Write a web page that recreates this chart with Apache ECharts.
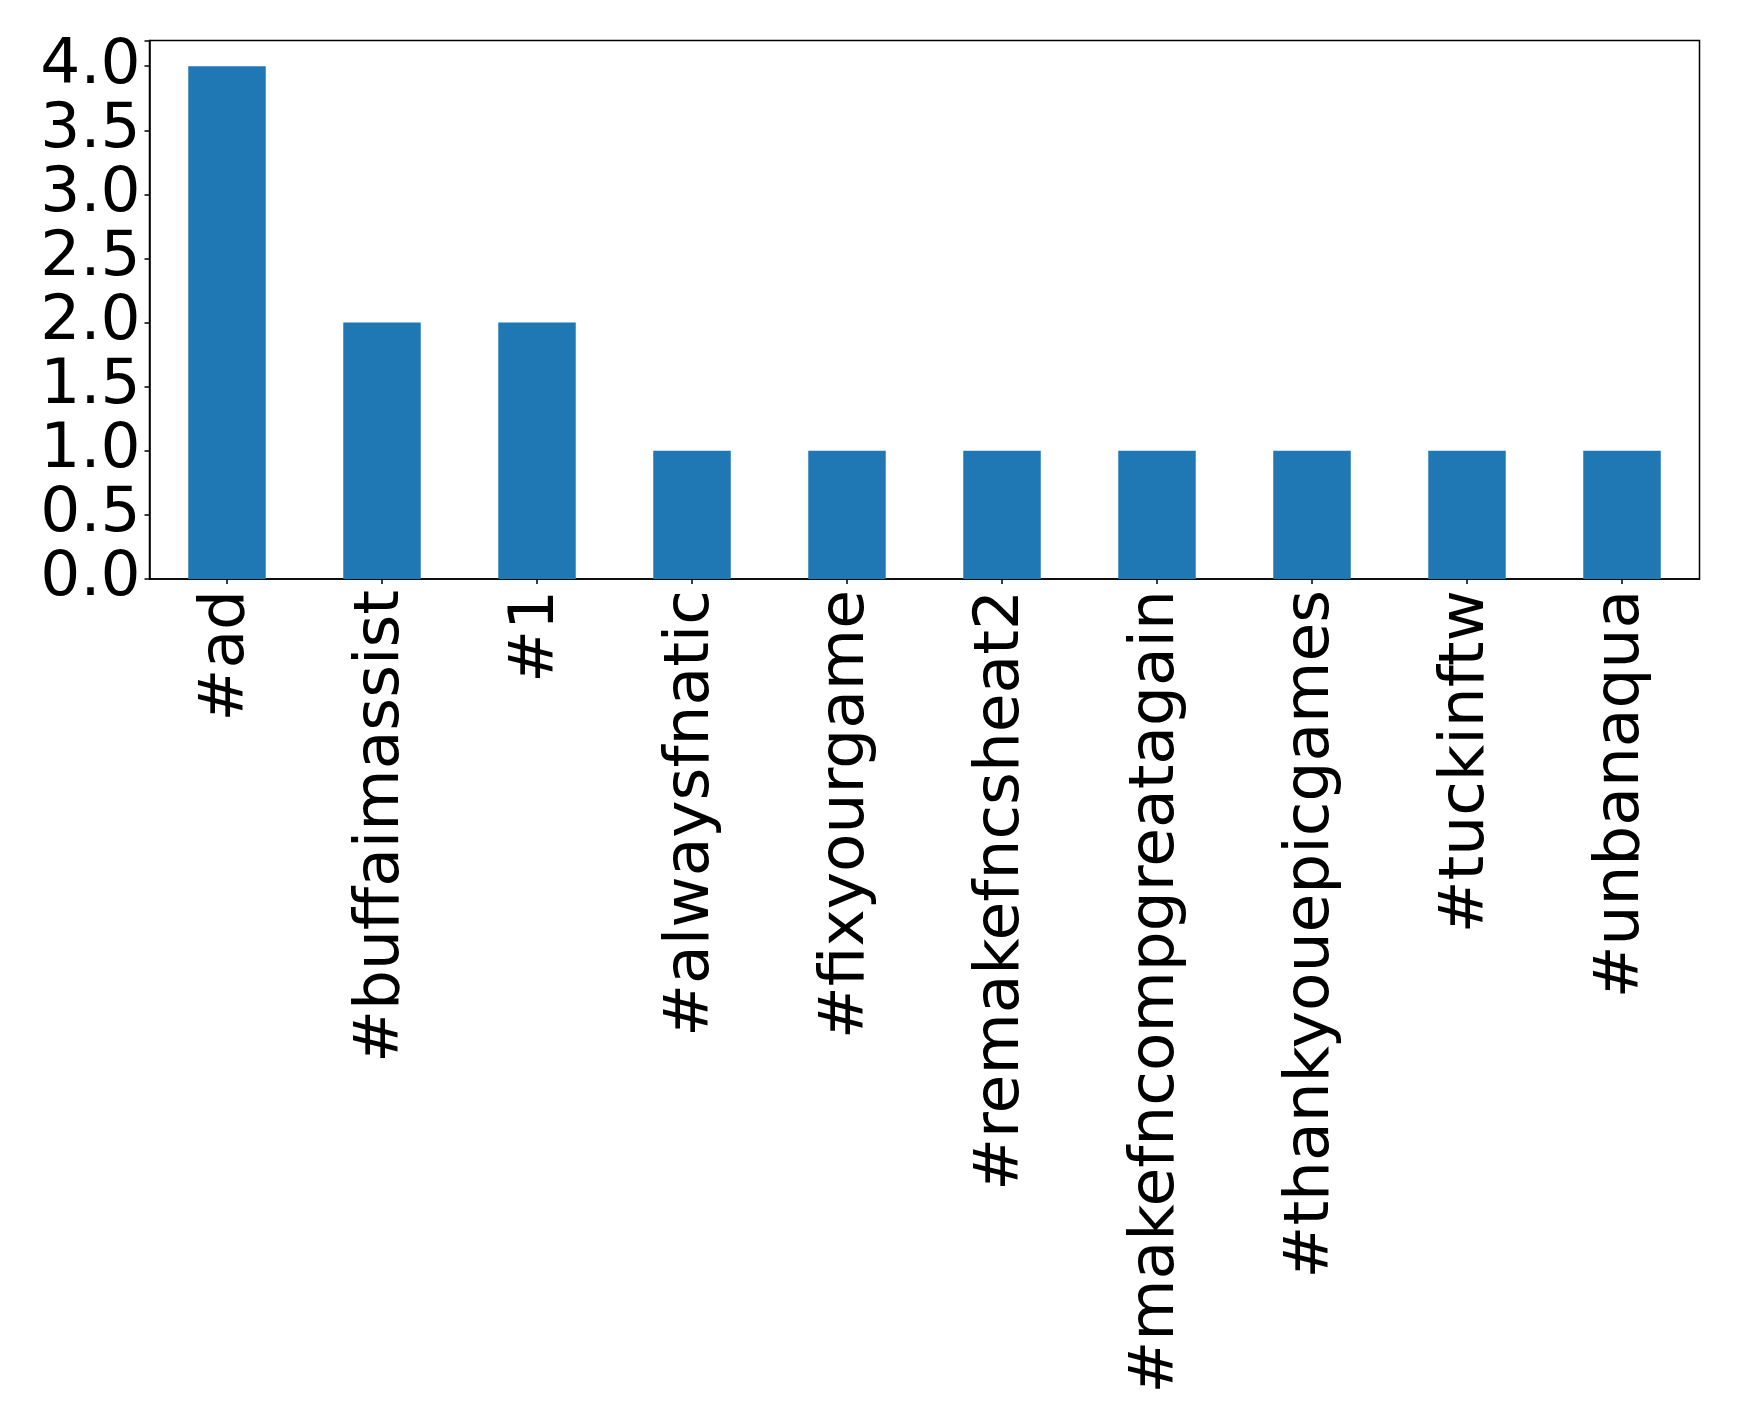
<!DOCTYPE html>
<html><head><meta charset="utf-8">
<script src="https://cdn.jsdelivr.net/npm/echarts@6/dist/echarts.min.js"></script>
<style>html,body{margin:0;padding:0;background:#fff}#c{width:1739px;height:1425px}</style>
</head><body><div id="c"></div>
<script>
const categories = ['#ad','#buffaimassist','#1','#alwaysfnatic','#fixyourgame','#remakefncsheat2','#makefncompgreatagain','#thankyouepicgames','#tuckinftw','#unbanaqua'];
const values = [4,2,2,1,1,1,1,1,1,1];
const yTicks = [0,0.5,1,1.5,2,2.5,3,3.5,4];

const chart = echarts.init(document.getElementById('c'));
chart.setOption({
  animation:false,
  backgroundColor:'#fff',
  grid:{left:149.5,top:40.5,right:39.5,bottom:846,show:true,borderColor:'#000',borderWidth:1.5,containLabel:false},
  xAxis:{type:'category',data:categories,boundaryGap:true,
    axisLine:{show:true,lineStyle:{color:'#000',width:1.5}},
    axisTick:{show:true,alignWithLabel:true,length:5,lineStyle:{color:'#000',width:1.5}},
    axisLabel:{rotate:90,interval:0,margin:11,fontFamily:'DejaVu Sans',fontSize:63,color:'#000'},
    splitLine:{show:false}},
  yAxis:{type:'value',min:0,max:4.2,interval:0.5,
    axisLine:{show:true,lineStyle:{color:'#000',width:1.5}},
    axisTick:{show:true,length:5,lineStyle:{color:'#000',width:1.5}},
    axisLabel:{margin:9,fontFamily:'DejaVu Sans',fontSize:63,color:'#000',
      formatter:function(v){return yTicks.some(t=>Math.abs(t-v)<1e-9)?v.toFixed(1):'';}},
    splitLine:{show:false}},
  series:[{type:'bar',data:values,barWidth:'50%',itemStyle:{color:'#1f77b4'}}]
});
</script></body></html>
